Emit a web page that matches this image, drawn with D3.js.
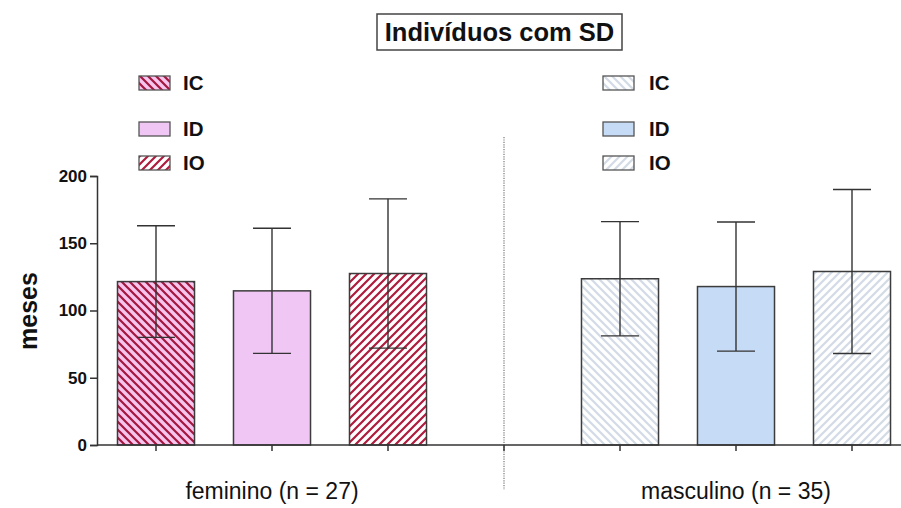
<!DOCTYPE html>
<html>
<head>
<meta charset="utf-8">
<script src="https://cdn.jsdelivr.net/npm/d3@7"></script>
<style>
  html, body { margin: 0; padding: 0; background: #fff; }
  svg { display: block; font-family: "Liberation Sans", Arial, sans-serif; }
</style>
</head>
<body>
<svg id="chart" width="901" height="508"></svg>
<script>
// Mean time (months) by sex and subgroup, with standard deviation
const groups = ["feminino (n = 27)", "masculino (n = 35)"];
const series = ["IC", "ID", "IO"];
const meanFeminino = [121.5, 114.6, 127.5];
const sdFeminino = [41.5, 46.5, 55.5];
const meanMasculino = [123.6, 117.8, 129.0];
const sdMasculino = [42.5, 48.0, 61.0];
const yTicks = [0, 50, 100, 150, 200];
const chartTitle = "Indivíduos com SD";
const yLabel = "meses";

const svg = d3.select("#chart");

// Fill styles per group / series
const styles = {
  0: [
    { fill: "#f6c4ec", stripe: "#a3173f", dir: "back" },
    { fill: "#f0c6f5", stripe: null },
    { fill: "#ffffff", stripe: "#b01a3c", dir: "fwd" }
  ],
  1: [
    { fill: "#ffffff", stripe: "#d3dbe6", dir: "back" },
    { fill: "#c6dbf6", stripe: null },
    { fill: "#ffffff", stripe: "#d3dbe6", dir: "fwd" }
  ]
};

const defs = svg.append("defs");
function makePattern(id, s) {
  const p = defs.append("pattern")
    .attr("id", id).attr("patternUnits", "userSpaceOnUse")
    .attr("width", 8).attr("height", 8);
  p.append("rect").attr("width", 8).attr("height", 8).attr("fill", s.fill);
  const d = s.dir === "back"
    ? "M-2,-2 L10,10 M-2,6 L2,10 M6,-2 L10,2"
    : "M-2,10 L10,-2 M-2,2 L2,-2 M6,10 L10,6";
  p.append("path").attr("d", d).attr("stroke", s.stripe)
    .attr("stroke-width", 2.2).attr("fill", "none");
}
function fillFor(g, i) {
  const s = styles[g][i];
  if (!s.stripe) return s.fill;
  const id = `pat-${g}-${i}`;
  if (defs.select("#" + id).empty()) makePattern(id, s);
  return `url(#${id})`;
}

// Flattened table of bars, with an empty slot between groups
const rows = [];
[meanFeminino, meanMasculino].forEach((means, g) => {
  const sds = g === 0 ? sdFeminino : sdMasculino;
  series.forEach((s, i) => rows.push({ key: `${g}-${s}`, g, i, mean: means[i], sd: sds[i] }));
});
const slots = ["0-IC", "0-ID", "0-IO", "gap", "1-IC", "1-ID", "1-IO"];

const x = d3.scaleBand().domain(slots).range([98, 910])
  .paddingInner(0.336).paddingOuter(0.168);
const y = d3.scaleLinear().domain([0, 200]).range([445, 176]);
const xc = k => x(k) + x.bandwidth() / 2;

// Bars
svg.append("g").selectAll("rect").data(rows).join("rect")
  .attr("x", d => x(d.key))
  .attr("y", d => y(d.mean))
  .attr("width", x.bandwidth())
  .attr("height", d => y(0) - y(d.mean))
  .attr("fill", d => fillFor(d.g, d.i))
  .attr("stroke", "#3c3c3c").attr("stroke-width", 1.5);

// Error bars
const eb = svg.append("g").attr("stroke", "#333").attr("stroke-width", 1.4);
rows.forEach(d => {
  const cx = xc(d.key), hw = 19;
  eb.append("line").attr("x1", cx).attr("x2", cx)
    .attr("y1", y(d.mean + d.sd)).attr("y2", y(d.mean - d.sd));
  eb.append("line").attr("x1", cx - hw).attr("x2", cx + hw)
    .attr("y1", y(d.mean + d.sd)).attr("y2", y(d.mean + d.sd));
  eb.append("line").attr("x1", cx - hw).attr("x2", cx + hw)
    .attr("y1", y(d.mean - d.sd)).attr("y2", y(d.mean - d.sd));
});

// Dotted separator between the two groups
svg.append("line")
  .attr("x1", xc("gap")).attr("x2", xc("gap"))
  .attr("y1", 137).attr("y2", 490)
  .attr("stroke", "#777").attr("stroke-width", 1.2)
  .attr("stroke-dasharray", "1.2,1.2");

// Y axis
const yAxis = svg.append("g").attr("transform", "translate(97,0)")
  .call(d3.axisLeft(y).tickValues(yTicks).tickSize(7).tickPadding(3));
yAxis.select(".domain").attr("stroke", "#333").attr("stroke-width", 1.5);
yAxis.selectAll(".tick line").attr("stroke", "#333").attr("stroke-width", 1.5);
yAxis.selectAll(".tick text").attr("font-size", 17).attr("font-weight", "bold")
  .attr("fill", "#111").attr("font-family", "Liberation Sans, Arial, sans-serif");

// X axis baseline and ticks
const xAxis = svg.append("g").attr("transform", "translate(0,445)");
xAxis.append("line").attr("x1", 97).attr("x2", 901).attr("y1", 0).attr("y2", 0)
  .attr("stroke", "#333").attr("stroke-width", 1.5);
xAxis.selectAll("line.tk").data(slots).join("line").attr("class", "tk")
  .attr("x1", d => xc(d)).attr("x2", d => xc(d))
  .attr("y1", 0).attr("y2", 6)
  .attr("stroke", "#333").attr("stroke-width", 1.5);

// Group labels
svg.append("g").selectAll("text").data(groups).join("text")
  .attr("x", (d, g) => xc(`${g}-ID`))
  .attr("y", 499)
  .attr("text-anchor", "middle")
  .attr("font-size", 23).attr("fill", "#111")
  .text(d => d);

// Y label
svg.append("text")
  .attr("transform", "translate(37,311) rotate(-90)")
  .attr("text-anchor", "middle")
  .attr("font-size", 25).attr("font-weight", "bold").attr("fill", "#111")
  .text(yLabel);

// Title with box
svg.append("rect")
  .attr("x", 377).attr("y", 14).attr("width", 245).attr("height", 36)
  .attr("fill", "#fff").attr("stroke", "#444").attr("stroke-width", 1.5);
svg.append("text")
  .attr("x", 499.5).attr("y", 41)
  .attr("text-anchor", "middle")
  .attr("font-size", 25.5).attr("font-weight", "bold").attr("fill", "#111")
  .text(chartTitle);

// Legends
const legendPos = [{ sx: 139, tx: 183 }, { sx: 603, tx: 649 }];
const legendY = [83, 129, 163];
[0, 1].forEach(g => {
  const lg = svg.append("g");
  series.forEach((s, i) => {
    lg.append("rect")
      .attr("x", legendPos[g].sx).attr("y", legendY[i] - 7)
      .attr("width", 31).attr("height", 14)
      .attr("fill", fillFor(g, i))
      .attr("stroke", "#555").attr("stroke-width", 1.3);
    lg.append("text")
      .attr("x", legendPos[g].tx).attr("y", legendY[i] + 7)
      .attr("font-size", 20.5).attr("font-weight", "bold").attr("fill", "#111")
      .text(s);
  });
});
</script>
</body>
</html>
